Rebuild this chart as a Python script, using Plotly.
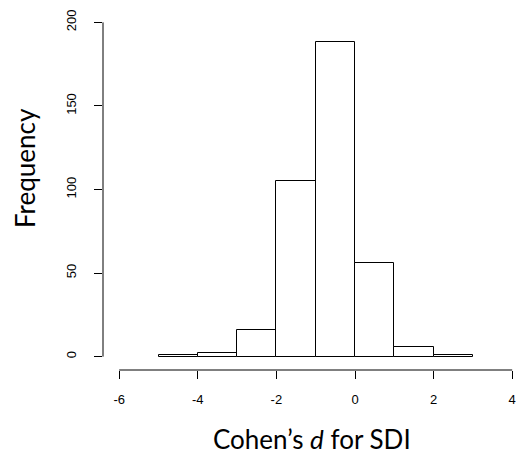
import plotly.graph_objects as go

bin_left = [-5, -4, -3, -2, -1, 0, 1, 2]
counts = [1, 2, 16, 105, 188, 56, 6, 1]
x_ticks = [-6, -4, -2, 0, 2, 4]
y_ticks = [0, 50, 100, 150, 200]

W, H = 518, 469
# plot area in pixels
L, R_, T, B = 103, 517, 8.6, 370.4
x_range = [(L - 355) / 39.3, (R_ - 355) / 39.3]
y_range = [(357 - B) / 1.675, (357 - T) / 1.675]

centers = [b + 0.5 for b in bin_left]

fig = go.Figure()
fig.add_trace(go.Bar(
    x=centers, y=counts, width=[1] * len(counts),
    marker=dict(color="white", line=dict(color="black", width=1)),
    hoverinfo="x+y", showlegend=False,
))

# axis lines spanning first to last tick (R style)
fig.add_shape(type="line", xref="x", yref="paper", x0=x_ticks[0], x1=x_ticks[-1], y0=0, y1=0,
              line=dict(color="black", width=1))
fig.add_shape(type="line", xref="paper", yref="y", x0=0, x1=0, y0=y_ticks[0], y1=y_ticks[-1],
              line=dict(color="black", width=1))

fig.update_layout(
    width=W, height=H,
    margin=dict(l=L, r=W - R_, t=T, b=H - B, pad=0, autoexpand=False),
    plot_bgcolor="white", paper_bgcolor="white",
    bargap=0,
    font=dict(family="Liberation Sans, Arial", size=13, color="black"),
    xaxis=dict(range=x_range, tickvals=x_ticks, ticktext=[str(v) for v in x_ticks],
               ticks="outside", ticklen=8, tickcolor="black", tickwidth=1,
               ticklabelstandoff=9,
               showgrid=False, zeroline=False, showline=False, automargin=False,
               tickfont=dict(size=13)),
    yaxis=dict(range=y_range, tickvals=y_ticks, ticktext=[str(v) for v in y_ticks],
               ticks="outside", ticklen=8, tickcolor="black", tickwidth=1,
               ticklabelstandoff=13,
               tickangle=-90, automargin=False,
               showgrid=False, zeroline=False, showline=False,
               tickfont=dict(size=13)),
    annotations=[
        dict(text="Cohen’s <i>d</i> for SDI", xref="paper", yref="paper",
             x=(312 - L) / (R_ - L), y=-(440 - B) / (B - T),
             xanchor="center", yanchor="middle", showarrow=False,
             font=dict(family="Lato, Open Sans", size=26, color="black")),
        dict(text="Frequency", xref="paper", yref="paper",
             x=-(L - 25) / (R_ - L), y=(B - 168) / (B - T),
             xanchor="center", yanchor="middle", showarrow=False, textangle=-90,
             font=dict(family="Lato, Open Sans", size=26, color="black")),
    ],
)

fig.write_html("out.html", config={"displayModeBar": False},
               post_script="document.body.style.margin='0';document.body.style.overflow='hidden';")
